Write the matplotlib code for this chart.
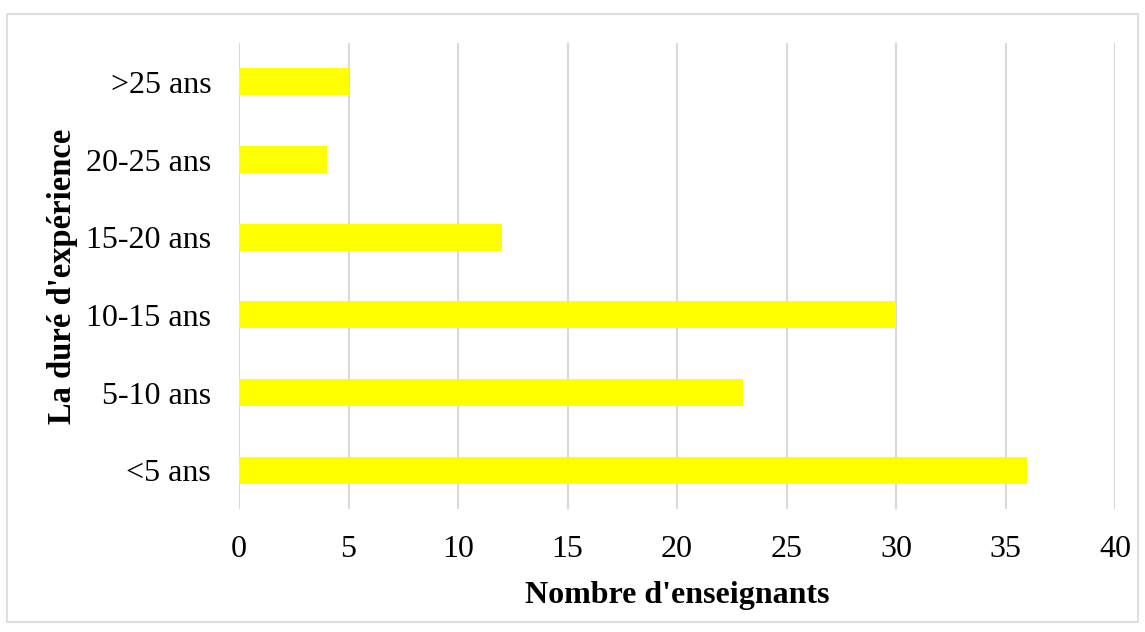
import matplotlib
matplotlib.use("Agg")
import matplotlib.pyplot as plt
from matplotlib.patches import Rectangle

categories = ["<5 ans", "5-10 ans", "10-15 ans", "15-20 ans", "20-25 ans", ">25 ans"]
values = [36, 23, 30, 12, 4, 5]
x_ticks = [0, 5, 10, 15, 20, 25, 30, 35, 40]

plt.rcParams["font.family"] = ["Liberation Serif", "DejaVu Serif"]

fig = plt.figure(figsize=(11.45, 6.32), dpi=100)
fig.patch.set_facecolor("white")

# light grey chart-area border
fig.add_artist(Rectangle((7 / 1145, 10 / 632), 1131 / 1145, 608 / 632,
                         transform=fig.transFigure, fill=False,
                         edgecolor="#d9d9d9", linewidth=1.2))

ax = fig.add_axes([239 / 1145, 123 / 632, 876 / 1145, 466 / 632])
ax.barh(range(len(categories)), values, height=0.35, color="#ffff00", zorder=3)

ax.set_xlim(0, 40)
ax.set_ylim(-0.5, len(categories) - 0.5)
ax.set_xticks(x_ticks)
ax.set_xticklabels([str(t) for t in x_ticks])
ax.set_yticks(range(len(categories)))
ax.set_yticklabels(categories)

ax.tick_params(axis="both", length=0, labelsize=23, colors="black")
ax.tick_params(axis="x", pad=19)
ax.tick_params(axis="y", pad=20)

ax.grid(axis="x", color="#d9d9d9", linewidth=1.5, zorder=0)
for s in ax.spines.values():
    s.set_visible(False)

ax.set_xlabel("Nombre d'enseignants", fontsize=23, fontweight="bold", labelpad=12)
ax.set_ylabel("La duré d'expérience", fontsize=23.5, fontweight="bold", labelpad=5.5)

fig.savefig("out.png", dpi=100)
